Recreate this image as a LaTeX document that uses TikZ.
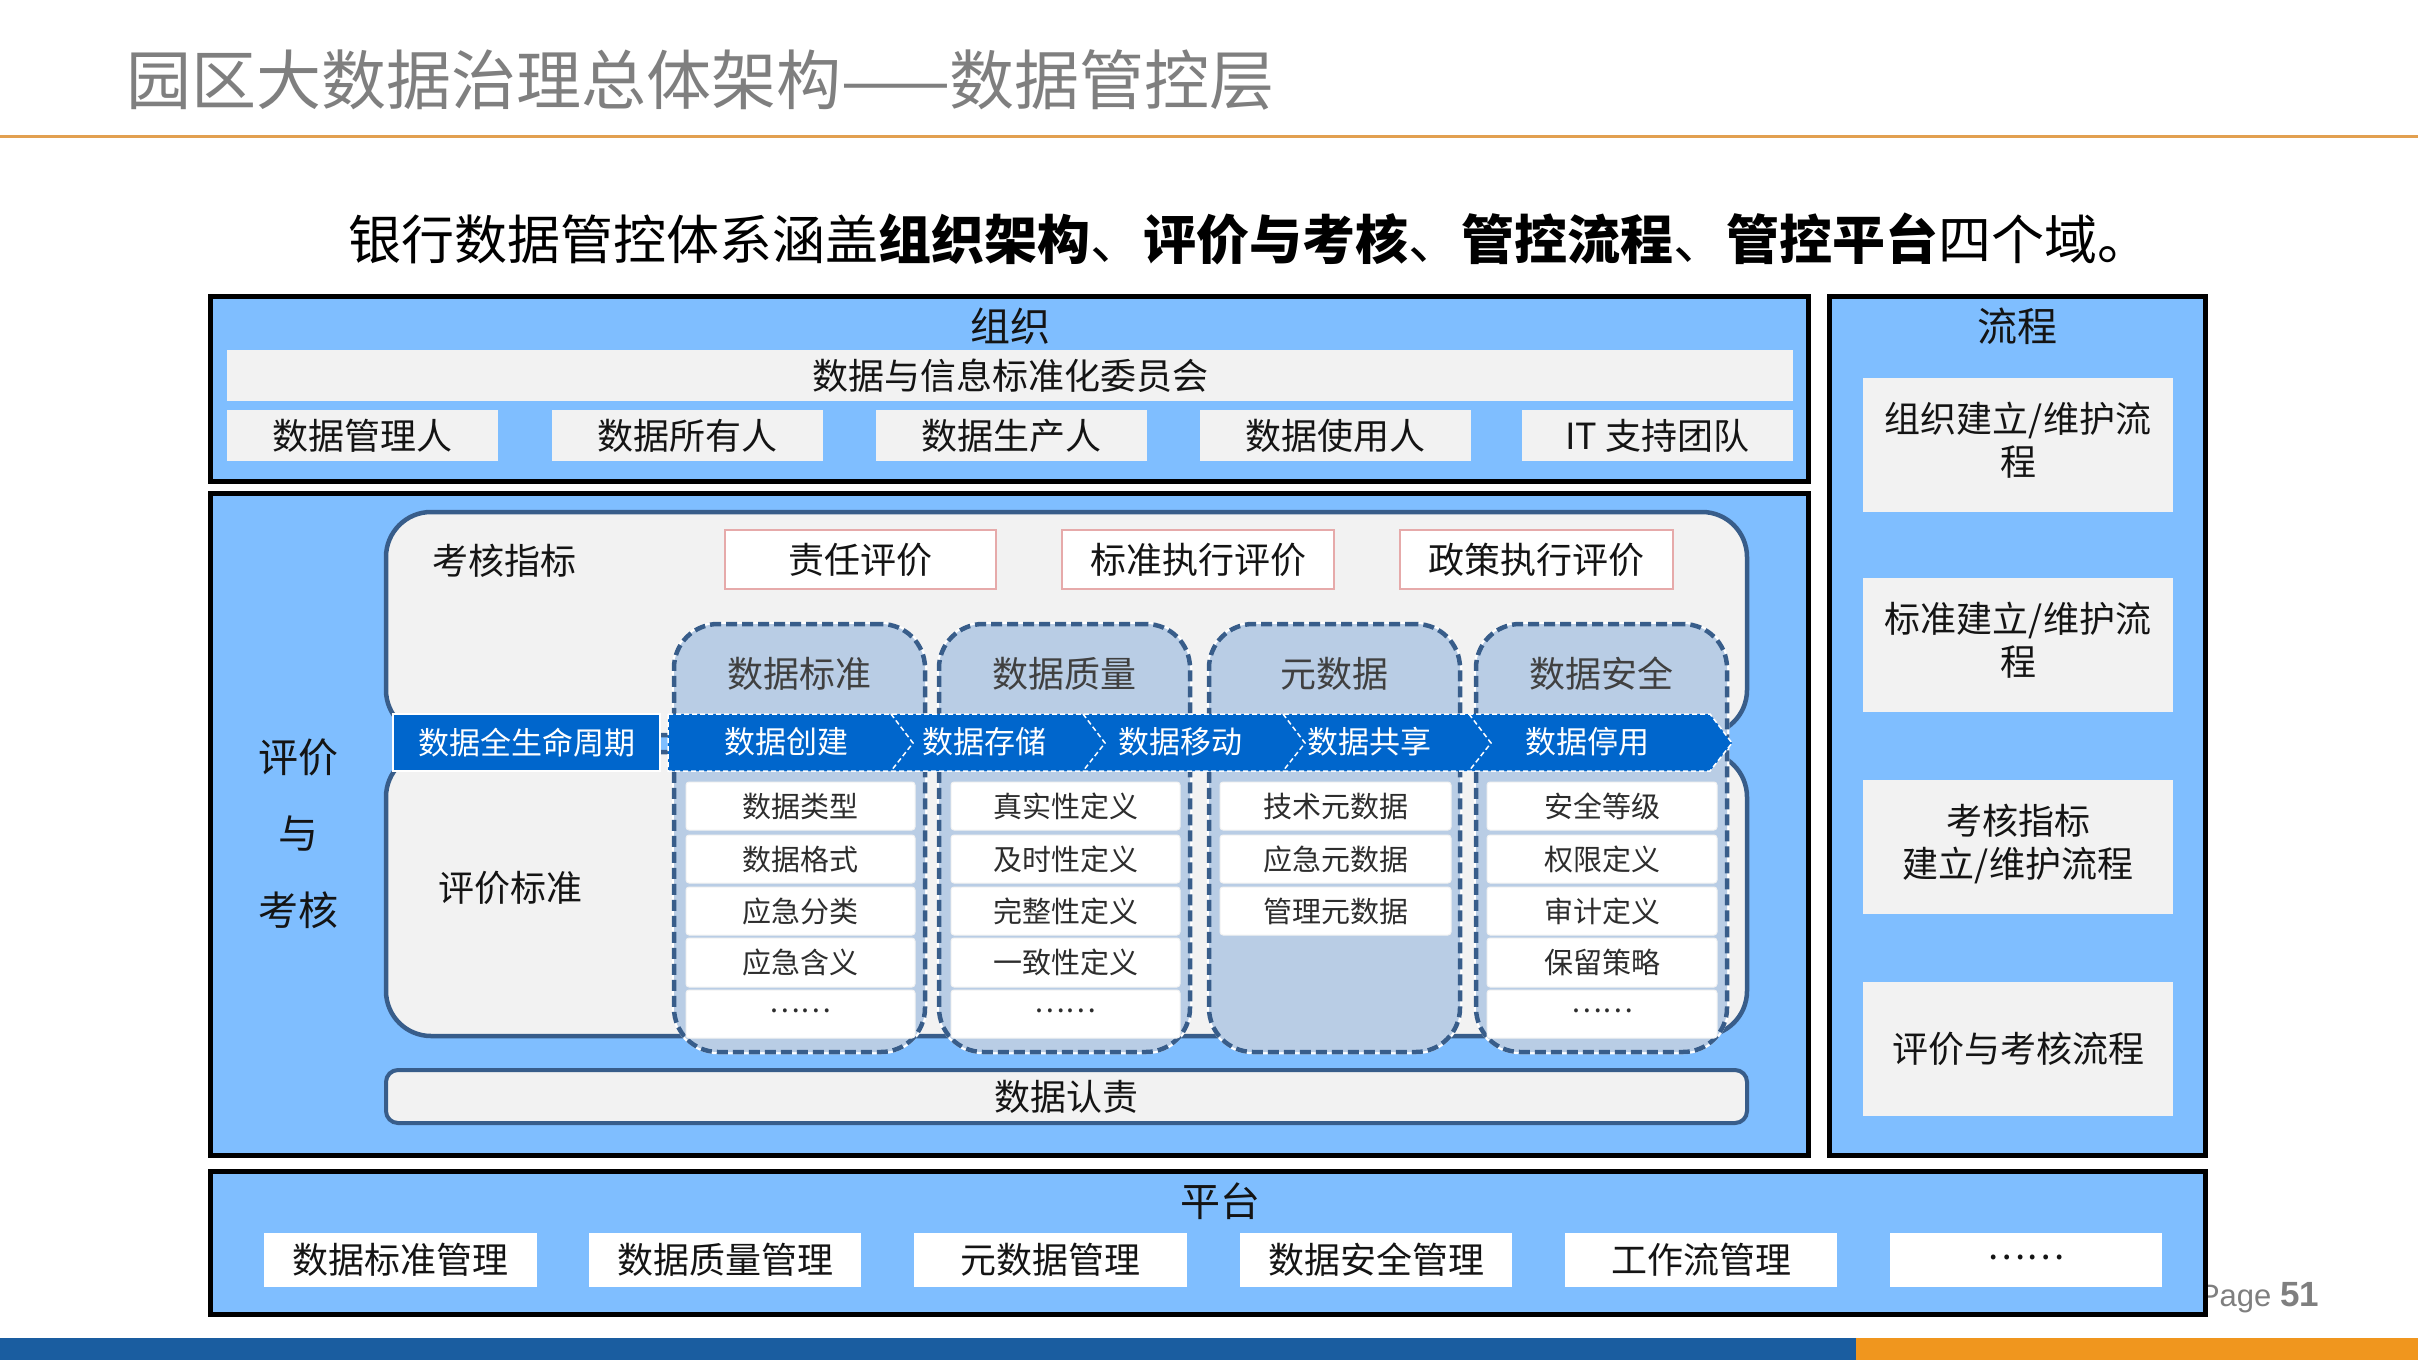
\documentclass[tikz,border=0pt]{standalone}
\usepackage{fontspec}
\setmainfont{Noto Sans CJK SC}
\newfontfamily\pagefont{Liberation Sans}
\usetikzlibrary{calc}
\definecolor{lb}{RGB}{127,190,255}
\definecolor{gbox}{RGB}{242,242,242}
\definecolor{dblue}{RGB}{56,93,138}
\definecolor{colfill}{RGB}{185,205,229}
\definecolor{bandc}{RGB}{0,102,204}
\definecolor{pinkb}{RGB}{230,170,170}
\definecolor{orline}{RGB}{226,160,80}
\definecolor{botblue}{RGB}{26,93,160}
\definecolor{botorange}{RGB}{240,150,30}
\definecolor{titlegray}{RGB}{127,127,127}
\definecolor{txt}{RGB}{20,20,20}
\definecolor{hdtxt}{RGB}{64,64,64}
\newcommand\szTitle{\fontsize{65}{72}\selectfont}
\newcommand\szSub{\fontsize{53}{60}\selectfont}
\newcommand\szLab{\fontsize{40}{46}\selectfont}
\newcommand\szMid{\fontsize{36}{43}\selectfont}
\newcommand\szBand{\fontsize{31}{36}\selectfont}
\newcommand\szCell{\fontsize{29}{34}\selectfont}
\newcommand\bx[7]{\node[#1, minimum width={#4-#2}, minimum height={#5-#3}] (#6) at ({(#2+#4)/2},{(#3+#5)/2}) {#7};}
\tikzset{
  every node/.style={inner sep=0pt, outer sep=0pt, text=txt},
  outerbox/.style={draw=black, line width=5pt, fill=lb},
  graybox/.style={fill=gbox, font=\szMid},
  whitebox/.style={fill=white, font=\szMid},
  pinkbox/.style={fill=white, draw=pinkb, line width=2pt, font=\szMid},
  innerbox/.style={fill=gbox, draw=dblue, line width=4.5pt, rounded corners=45pt},
  colbox/.style={fill=colfill, preaction={draw=white, line width=4.5pt, solid}, draw=dblue, line width=4.5pt, dash pattern=on 11pt off 5pt, rounded corners=44pt},
  cellbox/.style={fill=white, draw=gbox, line width=1pt, rounded corners=3pt, font=\szCell, text=hdtxt!70!black},
  lcbox/.style={fill=bandc, draw=white, line width=2.5pt, font=\szBand, text=white},
  bandtxt/.style={font=\szBand, text=white},
  hdr/.style={font=\szMid, text=hdtxt},
  lbl/.style={font=\szLab},
  mlbl/.style={font=\szMid},
  sep/.style={draw=white, line width=1.5pt, dash pattern=on 5pt off 3pt},
  rendbar/.style={fill=gbox, draw=dblue, line width=4pt, rounded corners=12pt, font=\szMid}
}
\begin{document}
\begin{tikzpicture}[x=1pt,y=-1pt]
\useasboundingbox[fill=white] (0,0) rectangle (2418,1360);
% header
\node[anchor=west, font=\szTitle, text=titlegray] (title) at (126,80) {园区大数据治理总体架构——数据管控层};
\draw[orline, line width=3pt] (0,136) -- (2418,136);
\node[anchor=west, font=\szSub, text=black] (sub) at (348,239) {银行数据管控体系涵盖{\bfseries 组织架构}、{\bfseries 评价与考核}、{\bfseries 管控流程}、{\bfseries 管控平台}四个域。};
% organisation
\bx{outerbox}{210.5}{296.5}{1808.5}{481}{org}{}
\node[lbl] (orglbl) at (1010,326) {组织};
\bx{graybox}{227}{350}{1793}{401}{com}{数据与信息标准化委员会}
\bx{graybox}{227}{410}{498}{461}{o1}{数据管理人}
\bx{graybox}{552}{410}{823}{461}{o2}{数据所有人}
\bx{graybox}{876}{410}{1147}{461}{o3}{数据生产人}
\bx{graybox}{1200}{410}{1471}{461}{o4}{数据使用人}
\bx{graybox}{1522}{410}{1793}{461}{o5}{IT 支持团队}
% evaluation
\bx{outerbox}{210.5}{493}{1808.5}{1155}{ev}{}
\node[lbl] (ev1) at (298,757) {评价};
\node[lbl] (ev2) at (298,834) {与};
\node[lbl] (ev3) at (298,910) {考核};
\bx{innerbox}{386}{512}{1747}{735}{upr}{}
\bx{innerbox}{386}{752}{1747}{1036}{lwr}{}
\node[mlbl] (khzb) at (504,561) {考核指标};
\node[mlbl] (pjbz) at (510,888) {评价标准};
\bx{pinkbox}{725}{530}{996}{589}{p1}{责任评价}
\bx{pinkbox}{1062}{530}{1334}{589}{p2}{标准执行评价}
\bx{pinkbox}{1400}{530}{1673}{589}{p3}{政策执行评价}
% columns
\bx{colbox}{674}{624}{925}{1052}{c1}{}
\bx{colbox}{939}{624}{1190}{1052}{c2}{}
\bx{colbox}{1209}{624}{1460}{1052}{c3}{}
\bx{colbox}{1476}{624}{1727}{1052}{c4}{}
\node[hdr] (h1) at (799.5,674) {数据标准};
\node[hdr] (h2) at (1064.5,674) {数据质量};
\node[hdr] (h3) at (1334.5,674) {元数据};
\node[hdr] (h4) at (1601.5,674) {数据安全};
% lifecycle band
\bx{lcbox}{393}{714}{660}{771}{lc}{数据全生命周期}
\fill[bandc] (668,714) -- (1710,714) -- (1732,743) -- (1710,771) -- (668,771) -- cycle;
\draw[sep] (668,714) -- (1710,714) -- (1732,743) -- (1710,771) -- (668,771) -- cycle;
\draw[sep] (891,714) -- (913,743) -- (891,771);
\draw[sep] (1083,714) -- (1105,743) -- (1083,771);
\draw[sep] (1283,714) -- (1305,743) -- (1283,771);
\draw[sep] (1469,714) -- (1491,743) -- (1469,771);
\node[bandtxt] (b1) at (786,742) {数据创建};
\node[bandtxt] (b2) at (984,742) {数据存储};
\node[bandtxt] (b3) at (1180,742) {数据移动};
\node[bandtxt] (b4) at (1369,742) {数据共享};
\node[bandtxt] (b5) at (1587,742) {数据停用};
% cells column 1
\bx{cellbox}{686}{782}{915}{830}{a1}{数据类型}
\bx{cellbox}{686}{835}{915}{883}{a2}{数据格式}
\bx{cellbox}{686}{887}{915}{935}{a3}{应急分类}
\bx{cellbox}{686}{938}{915}{987}{a4}{应急含义}
\bx{cellbox}{686}{990}{915}{1038}{a5}{\raisebox{6pt}{……}}
% column 2
\bx{cellbox}{951}{782}{1180}{830}{q1}{真实性定义}
\bx{cellbox}{951}{835}{1180}{883}{q2}{及时性定义}
\bx{cellbox}{951}{887}{1180}{935}{q3}{完整性定义}
\bx{cellbox}{951}{938}{1180}{987}{q4}{一致性定义}
\bx{cellbox}{951}{990}{1180}{1038}{q5}{\raisebox{6pt}{……}}
% column 3
\bx{cellbox}{1220}{782}{1451}{830}{m1}{技术元数据}
\bx{cellbox}{1220}{835}{1451}{883}{m2}{应急元数据}
\bx{cellbox}{1220}{887}{1451}{935}{m3}{管理元数据}
% column 4
\bx{cellbox}{1487}{782}{1717}{830}{s1}{安全等级}
\bx{cellbox}{1487}{835}{1717}{883}{s2}{权限定义}
\bx{cellbox}{1487}{887}{1717}{935}{s3}{审计定义}
\bx{cellbox}{1487}{938}{1717}{987}{s4}{保留策略}
\bx{cellbox}{1487}{990}{1717}{1038}{s5}{\raisebox{6pt}{……}}
\bx{rendbar}{386}{1070}{1747}{1123}{rz}{数据认责}
% process
\bx{outerbox}{1829.5}{296.5}{2205.5}{1155}{fl}{}
\node[lbl] (fllbl) at (2017,326) {流程};
\bx{graybox}{1863}{378}{2173}{512}{f1}{\begin{tabular}{@{}c@{}}组织建立/维护流\\[0pt]程\end{tabular}}
\bx{graybox}{1863}{578}{2173}{712}{f2}{\begin{tabular}{@{}c@{}}标准建立/维护流\\[0pt]程\end{tabular}}
\bx{graybox}{1863}{780}{2173}{914}{f3}{\begin{tabular}{@{}c@{}}考核指标\\[0pt]建立/维护流程\end{tabular}}
\bx{graybox}{1863}{982}{2173}{1116}{f4}{评价与考核流程}
% page number
\node[anchor=base west, font=\pagefont\fontsize{31}{36}\selectfont, text=titlegray] (pg) at (2199,1306) {Page {\bfseries\fontsize{35}{40}\selectfont 51}};
% platform
\bx{outerbox}{210.5}{1171.5}{2205.5}{1314.5}{pf}{}
\node[lbl] (pflbl) at (1220,1201) {平台};
\bx{whitebox}{264}{1233}{537}{1287}{t1}{数据标准管理}
\bx{whitebox}{589}{1233}{861}{1287}{t2}{数据质量管理}
\bx{whitebox}{914}{1233}{1187}{1287}{t3}{元数据管理}
\bx{whitebox}{1240}{1233}{1512}{1287}{t4}{数据安全管理}
\bx{whitebox}{1565}{1233}{1837}{1287}{t5}{工作流管理}
\bx{whitebox}{1890}{1233}{2162}{1287}{t6}{\raisebox{6pt}{……}}
% bottom bar
\fill[botblue] (0,1338) rectangle (1856,1360);
\fill[botorange] (1856,1338) rectangle (2418,1360);
\end{tikzpicture}
\end{document}
